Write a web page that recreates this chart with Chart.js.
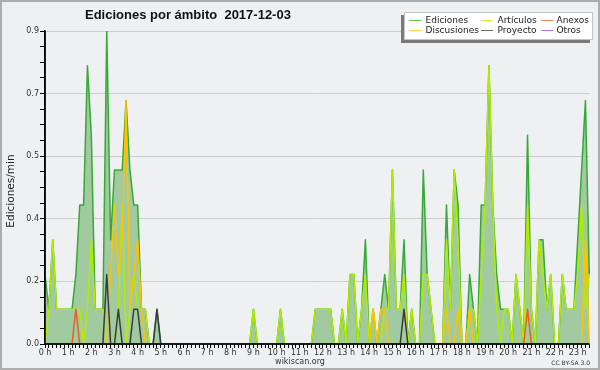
<!DOCTYPE html>
<html>
<head>
<meta charset="utf-8">
<script src="https://cdn.jsdelivr.net/npm/chart.js@4.4.1/dist/chart.umd.min.js"></script>
<style>
  body { margin: 0; background: #eff0f2; }
  #wrap { position: relative; width: 600px; height: 370px; }
  #legend {
    position: absolute; left: 404px; top: 12px; width: 187px; height: 26px;
    background: #fff; border: 1px solid #c4c4c4; box-shadow: -3px 3px 0 #7a7a7a;
    font: 9px "DejaVu Sans"; color: #222;
  }
  .sw { position: absolute; width: 12px; height: 0; border-top: 1px solid; }
  .lb { position: absolute; line-height: 10px; white-space: nowrap; }
</style>
</head>
<body>
<div id="wrap">
  <canvas id="myChart" width="600" height="370"></canvas>
  <div id="legend"></div>
</div>
<script>
// 10-minute slots, 0:00 .. 23:30
const slots = [];
for (let m = 0; m < 142 * 10; m += 10) {
    slots.push(Math.floor(m / 60) + ':' + String(m % 60).padStart(2, '0'));
}
const hourLabels = ['0 h', '1 h', '2 h', '3 h', '4 h', '5 h', '6 h', '7 h', '8 h', '9 h', '10 h', '11 h',
    '12 h', '13 h', '14 h', '15 h', '16 h', '17 h', '18 h', '19 h', '20 h', '21 h', '22 h', '23 h'];
const yLabels = ['0.0', '0.2', '0.4', '0.5', '0.7', '0.9'];
const yMax = 0.9;

// edits per minute, one value per slot (two hours per row)
const ediciones = [
    0.2, 0.1, 0.3, 0.1, 0.1, 0.1, 0.1, 0.1, 0.2, 0.4, 0.4, 0.8,
    0.6, 0.1, 0.1, 0.1, 0.9, 0.3, 0.5, 0.5, 0.5, 0.7, 0.5, 0.4,
    0.4, 0.1, 0.1, 0, 0, 0.1, 0, 0, 0, 0, 0, 0,
    0, 0, 0, 0, 0, 0, 0, 0, 0, 0, 0, 0,
    0, 0, 0, 0, 0, 0, 0.1, 0, 0, 0, 0, 0,
    0, 0.1, 0, 0, 0, 0, 0, 0, 0, 0, 0.1, 0.1,
    0.1, 0.1, 0.1, 0, 0, 0.1, 0, 0.2, 0.2, 0, 0.1, 0.3,
    0, 0.1, 0, 0.1, 0.2, 0.1, 0.5, 0.1, 0.1, 0.3, 0, 0.1,
    0, 0, 0.5, 0.2, 0.1, 0, 0, 0, 0.4, 0.1, 0.5, 0.4,
    0, 0, 0.2, 0.1, 0, 0.4, 0.4, 0.8, 0.4, 0.2, 0.1, 0.1,
    0.1, 0, 0.2, 0.1, 0, 0.6, 0.1, 0, 0.3, 0.3, 0.1, 0.2,
    0, 0, 0.2, 0.1, 0.1, 0.1, 0.3, 0.5, 0.7, 0.2
];
const articulos = [
    0, 0.1, 0.3, 0.1, 0.1, 0.1, 0.1, 0.1, 0.1, 0.1, 0, 0.1,
    0.3, 0.1, 0.1, 0.1, 0, 0, 0, 0.1, 0.4, 0, 0.1, 0.2,
    0.1, 0.1, 0.1, 0, 0, 0, 0, 0, 0, 0, 0, 0,
    0, 0, 0, 0, 0, 0, 0, 0, 0, 0, 0, 0,
    0, 0, 0, 0, 0, 0, 0.1, 0, 0, 0, 0, 0,
    0, 0.1, 0, 0, 0, 0, 0, 0, 0, 0, 0.1, 0.1,
    0.1, 0.1, 0.1, 0, 0, 0.1, 0, 0.2, 0.2, 0, 0.1, 0.2,
    0, 0.1, 0, 0, 0.1, 0.1, 0.5, 0.1, 0.1, 0.2, 0, 0.1,
    0, 0, 0.2, 0.2, 0.1, 0, 0, 0, 0.3, 0.1, 0.5, 0.3,
    0, 0, 0.1, 0.1, 0, 0.2, 0.4, 0.8, 0.4, 0.1, 0, 0.1,
    0.1, 0, 0.2, 0.1, 0, 0.4, 0.1, 0, 0.3, 0.2, 0.1, 0.2,
    0, 0, 0.2, 0.1, 0.1, 0.1, 0.2, 0.4, 0.1, 0.2
];
const discusiones = [
    0, 0, 0, 0, 0, 0, 0, 0, 0, 0, 0, 0,
    0, 0, 0, 0, 0, 0.2, 0.4, 0.2, 0.3, 0.7, 0.1, 0.2,
    0.3, 0.1, 0, 0, 0, 0, 0, 0, 0, 0, 0, 0,
    0, 0, 0, 0, 0, 0, 0, 0, 0, 0, 0, 0,
    0, 0, 0, 0, 0, 0, 0, 0, 0, 0, 0, 0,
    0, 0, 0, 0, 0, 0, 0, 0, 0, 0, 0, 0,
    0, 0, 0, 0, 0, 0, 0, 0, 0, 0, 0, 0,
    0, 0.1, 0, 0.1, 0.1, 0, 0, 0, 0, 0, 0, 0,
    0, 0, 0, 0, 0, 0, 0, 0, 0.1, 0, 0, 0.1,
    0, 0, 0.1, 0, 0, 0, 0, 0, 0, 0, 0, 0,
    0, 0, 0, 0, 0, 0, 0, 0, 0, 0, 0, 0,
    0, 0, 0, 0, 0, 0, 0, 0, 0.3, 0
];
const anexos = [
    0, 0, 0, 0, 0, 0, 0, 0, 0.1, 0, 0, 0,
    0, 0, 0, 0, 0, 0, 0, 0, 0, 0, 0, 0,
    0, 0, 0, 0, 0, 0, 0, 0, 0, 0, 0, 0,
    0, 0, 0, 0, 0, 0, 0, 0, 0, 0, 0, 0,
    0, 0, 0, 0, 0, 0, 0, 0, 0, 0, 0, 0,
    0, 0, 0, 0, 0, 0, 0, 0, 0, 0, 0, 0,
    0, 0, 0, 0, 0, 0, 0, 0, 0, 0, 0, 0,
    0, 0, 0, 0, 0, 0, 0, 0, 0, 0, 0, 0,
    0, 0, 0, 0, 0, 0, 0, 0, 0, 0, 0, 0,
    0, 0, 0, 0, 0, 0, 0, 0, 0, 0, 0, 0,
    0, 0, 0, 0, 0, 0.1, 0, 0, 0, 0, 0, 0,
    0, 0, 0, 0, 0, 0, 0, 0, 0, 0
];
const proyecto = [
    0, 0, 0, 0, 0, 0, 0, 0, 0, 0, 0, 0,
    0, 0, 0, 0, 0.2, 0, 0, 0.1, 0, 0, 0, 0.1,
    0.1, 0, 0, 0, 0, 0.1, 0, 0, 0, 0, 0, 0,
    0, 0, 0, 0, 0, 0, 0, 0, 0, 0, 0, 0,
    0, 0, 0, 0, 0, 0, 0, 0, 0, 0, 0, 0,
    0, 0, 0, 0, 0, 0, 0, 0, 0, 0, 0, 0,
    0, 0, 0, 0, 0, 0, 0, 0, 0, 0, 0, 0,
    0, 0, 0, 0, 0, 0, 0, 0, 0, 0.1, 0, 0,
    0, 0, 0, 0, 0, 0, 0, 0, 0, 0, 0, 0,
    0, 0, 0, 0, 0, 0, 0, 0, 0, 0, 0, 0,
    0, 0, 0, 0, 0, 0, 0, 0, 0, 0, 0, 0,
    0, 0, 0, 0, 0, 0, 0, 0, 0, 0
];
const otros = new Array(slots.length).fill(0);

const yTicks = [];
for (let k = 0; k <= 20; k++) yTicks.push(yMax * k / 20);

const chartDecor = {
    id: 'chartDecor',
    beforeDraw(chart) {
        const ctx = chart.ctx;
        ctx.save();
        ctx.fillStyle = '#eff0f2';
        ctx.fillRect(0, 0, chart.width, chart.height);
        ctx.restore();
    },
    afterDatasetsDraw(chart) {
        // axis lines on top of the baseline of the series
        const { ctx, chartArea: a } = chart;
        ctx.save();
        ctx.strokeStyle = '#000';
        ctx.lineWidth = 1.5;
        ctx.beginPath();
        ctx.moveTo(a.left, a.top);
        ctx.lineTo(a.left, a.bottom);
        ctx.lineTo(a.right, a.bottom);
        ctx.stroke();
        ctx.restore();
    },
    afterDraw(chart) {
        const ctx = chart.ctx;
        ctx.save();
        ctx.fillStyle = '#111';
        ctx.font = 'bold 13px "Liberation Sans"';
        ctx.fillText('Ediciones por ámbito  2017-12-03', 85, 18.5);

        ctx.fillStyle = '#222';
        ctx.font = '10.5px "DejaVu Sans"';
        ctx.save();
        ctx.translate(14, 191);
        ctx.rotate(-Math.PI / 2);
        ctx.textAlign = 'center';
        ctx.fillText('Ediciones/min', 0, 0);
        ctx.restore();

        ctx.fillStyle = '#333';
        ctx.font = '8px "DejaVu Sans"';
        ctx.textAlign = 'center';
        ctx.fillText('wikiscan.org', 300, 364);
        ctx.font = '6px "DejaVu Sans"';
        ctx.textAlign = 'right';
        ctx.fillText('CC BY-SA 3.0', 590, 364.5);

        ctx.strokeStyle = '#adadad';
        ctx.lineWidth = 2;
        ctx.strokeRect(1, 1, chart.width - 2, chart.height - 2);
        ctx.restore();
    }
};

const ctx = document.getElementById('myChart');
const chart = new Chart(ctx, {
    type: 'line',
    data: {
        labels: slots,
        datasets: [
            { label: 'Ediciones', data: ediciones, borderColor: '#36a936', backgroundColor: '#a1caa1', fill: 'origin', order: 6 },
            { label: 'Artículos', data: articulos, borderColor: '#b2ec00', fill: false, order: 5 },
            { label: 'Discusiones', data: discusiones, borderColor: '#ffc200', fill: false, order: 4 },
            { label: 'Anexos', data: anexos, borderColor: '#ef5f1a', fill: false, order: 3 },
            { label: 'Proyecto', data: proyecto, borderColor: '#3a3a3a', fill: false, order: 2 },
            { label: 'Otros', data: otros, borderColor: '#8a44ee', fill: false, order: 1 }
        ]
    },
    options: {
        responsive: false,
        animation: false,
        layout: { padding: { top: 31, right: 10.7, left: 0, bottom: 0 } },
        elements: {
            point: { radius: 0 },
            line: { tension: 0, borderWidth: 1.5, borderJoinStyle: 'round' }
        },
        plugins: {
            legend: { display: false },
            tooltip: { enabled: false },
            title: { display: false }
        },
        scales: {
            x: {
                afterFit(scale) { scale.height = 26; },
                grid: { drawOnChartArea: false, tickLength: 4, tickColor: '#000', lineWidth: 1 },
                border: { color: '#000', width: 1.5 },
                ticks: {
                    autoSkip: false, maxRotation: 0, minRotation: 0, padding: 0,
                    color: '#333', font: { family: 'DejaVu Sans', size: 8 },
                    callback: (v, i) => (i % 6 === 0 ? hourLabels[i / 6] : '')
                }
            },
            y: {
                min: 0,
                max: yMax,
                afterFit(scale) { scale.width = 45; },
                afterBuildTicks(scale) { scale.ticks = yTicks.map(v => ({ value: v })); },
                grid: {
                    tickLength: 5,
                    tickColor: '#000',
                    color: c => (c.index % 4 === 0 && c.index > 0 ? '#cdcdcd' : 'rgba(0,0,0,0)')
                },
                border: { color: '#000', width: 1.5 },
                ticks: {
                    padding: 1, color: '#333', font: { family: 'DejaVu Sans', size: 8 },
                    callback: (v, i) => (i % 4 === 0 ? yLabels[i / 4] : '')
                }
            }
        }
    },
    plugins: [chartDecor]
});

// legend box, 3 columns x 2 rows
const legendPos = [[4, 20.5], [76, 92.5], [136, 151.5]];
const legendOrder = ['Ediciones', 'Artículos', 'Anexos', 'Discusiones', 'Proyecto', 'Otros'];
const legendBox = document.getElementById('legend');
legendOrder.forEach((name, k) => {
    const ds = chart.data.datasets.find(d => d.label === name);
    const col = k % 3, row = Math.floor(k / 3);
    const sw = document.createElement('div');
    sw.className = 'sw';
    sw.style.left = legendPos[col][0] + 'px';
    sw.style.top = (6.5 + row * 10.5) + 'px';
    sw.style.borderColor = ds.borderColor;
    sw.style.opacity = 0.75;
    const lb = document.createElement('div');
    lb.className = 'lb';
    lb.style.left = legendPos[col][1] + 'px';
    lb.style.top = (1.5 + row * 10.5) + 'px';
    lb.textContent = name;
    legendBox.appendChild(sw);
    legendBox.appendChild(lb);
});
</script>
</body>
</html>
